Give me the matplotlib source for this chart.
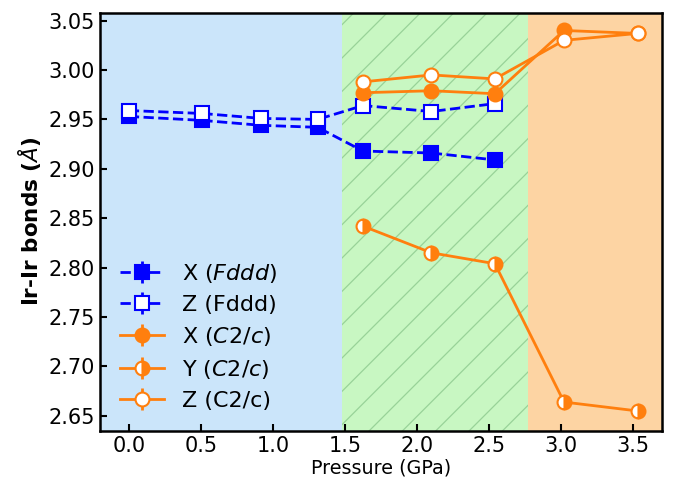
import matplotlib
matplotlib.use("Agg")
import matplotlib.pyplot as plt

# Pressure (GPa) for each phase
p_fddd = [0.0, 0.51, 0.92, 1.31, 1.625, 2.10, 2.54]
p_c2c = [1.625, 2.10, 2.54, 3.02, 3.53]

# Ir-Ir bond lengths (Angstrom)
x_fddd = [2.953, 2.949, 2.944, 2.942, 2.918, 2.916, 2.909]
z_fddd = [2.959, 2.956, 2.951, 2.950, 2.964, 2.958, 2.966]
x_c2c = [2.977, 2.979, 2.976, 3.040, 3.037]
y_c2c = [2.842, 2.815, 2.804, 2.664, 2.655]
z_c2c = [2.988, 2.995, 2.991, 3.030, 3.037]

err = 0.001

# phase regions (GPa)
regions = [(-0.2, 1.48), (1.48, 2.77), (2.77, 3.7)]

blue = '#0000ff'
orange = '#ff7f0e'

plt.rcParams['hatch.linewidth'] = 0.9

fig = plt.figure(figsize=(6.79, 4.82), dpi=100)
ax = fig.add_axes([0.1473, 0.1064, 0.8277, 0.8673])

ax.axvspan(*regions[0], facecolor='#cbe5fa', lw=0, zorder=0)
ax.axvspan(*regions[1], facecolor='#c8f7c2', edgecolor='#98d298', hatch='/', lw=0, zorder=0)
ax.axvspan(*regions[2], facecolor='#fdd4a3', lw=0, zorder=0)

ms = 10
ax.errorbar(p_fddd, x_fddd, yerr=err, color=blue, ls='--', lw=2, marker='s', ms=ms,
            mfc=blue, mec=blue, mew=1.5, label=r'X ($\mathit{Fddd}$)')
ax.errorbar(p_fddd, z_fddd, yerr=err, color=blue, ls='--', lw=2, marker='s', ms=ms,
            mfc='white', mec=blue, mew=1.5, label='Z (Fddd)')
ax.errorbar(p_c2c, x_c2c, yerr=err, color=orange, ls='-', lw=2, marker='o', ms=ms,
            mfc=orange, mec=orange, mew=1.5, label=r'X ($\mathit{C2/c}$)')
ax.errorbar(p_c2c, y_c2c, yerr=err, color=orange, ls='-', lw=2, marker='o', ms=ms,
            fillstyle='right', mfc=orange, mfcalt='white', mec=orange, mew=1.5,
            label=r'Y ($\mathit{C2/c}$)')
ax.errorbar(p_c2c, z_c2c, yerr=err, color=orange, ls='-', lw=2, marker='o', ms=ms,
            mfc='white', mec=orange, mew=1.5, label='Z (C2/c)')

ax.set_xlim(-0.2, 3.7)
ax.set_ylim(2.635, 3.058)
ax.set_xticks([0.0, 0.5, 1.0, 1.5, 2.0, 2.5, 3.0, 3.5])
ax.set_yticks([2.65, 2.70, 2.75, 2.80, 2.85, 2.90, 2.95, 3.00, 3.05])
ax.tick_params(direction='in', length=5, width=1.5, labelsize=15)
for s in ax.spines.values():
    s.set_linewidth(1.8)

ax.set_xlabel('Pressure (GPa)', fontsize=13.8, labelpad=2)
ax.set_ylabel(r'Ir-Ir bonds ($\mathit{Å}$)', fontsize=15.5, fontweight='bold')

ax.legend(loc='lower left', frameon=False, fontsize=16, labelspacing=0.45,
          handlelength=2.0)

fig.savefig('out.png', dpi=100)
